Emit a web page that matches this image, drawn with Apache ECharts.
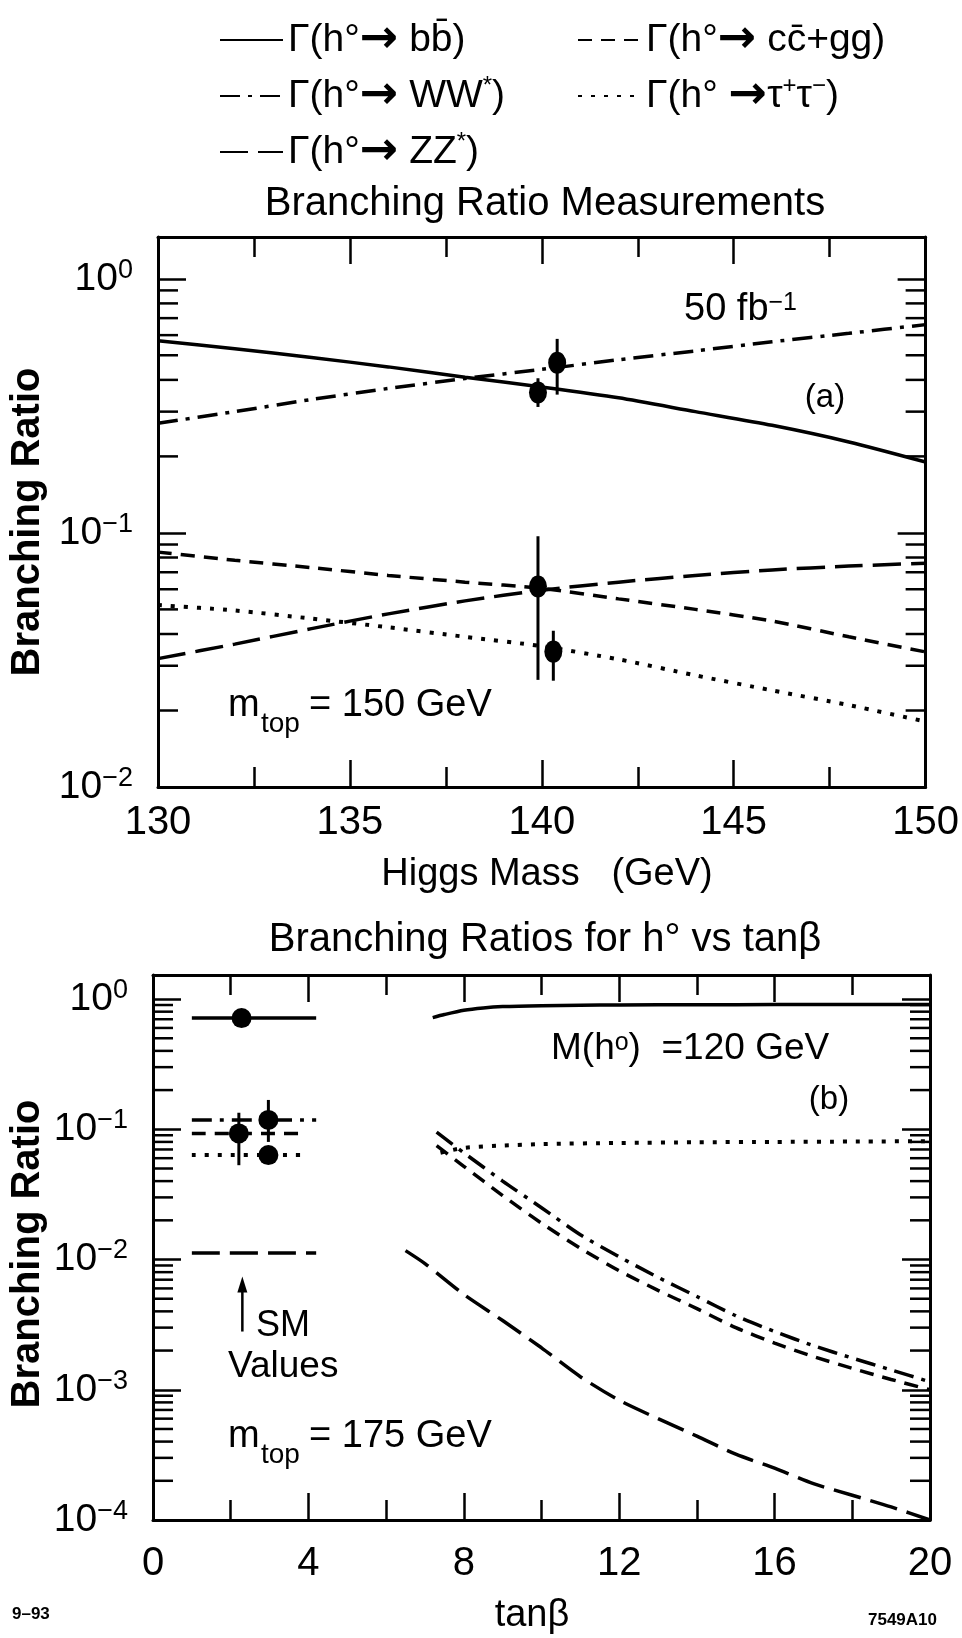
<!DOCTYPE html>
<html>
<head>
<meta charset="utf-8">
<script src="https://cdn.jsdelivr.net/npm/echarts@6/dist/echarts.min.js"></script>
<style>
  html, body { margin: 0; padding: 0; background: #fff; }
  #chart { width: 962px; height: 1638px; }
</style>
</head>
<body>
<div id="chart"></div>
<script>
// ---- panel (a): branching ratios vs Higgs mass ----
var massX  = [130, 132, 134, 136, 138, 140, 142, 144, 146, 148, 150];
var aBB    = [0.57, 0.53, 0.49, 0.45, 0.41, 0.375, 0.34, 0.30, 0.265, 0.228, 0.19];
var aCC    = [0.084, 0.078, 0.073, 0.068, 0.064, 0.0605, 0.055, 0.05, 0.045, 0.039, 0.034];
var aWW    = [0.27, 0.30, 0.335, 0.37, 0.405, 0.44, 0.48, 0.52, 0.565, 0.61, 0.66];
var aTau   = [0.052, 0.0495, 0.046, 0.0425, 0.039, 0.0358, 0.0318, 0.0275, 0.024, 0.021, 0.0181];
var aZZ    = [0.032, 0.0365, 0.042, 0.048, 0.054, 0.0595, 0.064, 0.068, 0.0715, 0.074, 0.076];
// measurements: [mass, BR, low, high]
var aMeas  = [[139.9, 0.357, 0.313, 0.406], [140.4, 0.467, 0.35, 0.58],
              [139.9, 0.0615, 0.0264, 0.097], [140.3, 0.0341, 0.0262, 0.0412]];

// ---- panel (b): branching ratios vs tan(beta) ----
var bBB  = [[7.2, 0.72], [7.5, 0.76], [8, 0.82], [8.5, 0.855], [9, 0.875], [10, 0.89], [11, 0.897], [12, 0.9], [14, 0.905], [16, 0.907], [18, 0.908], [20, 0.908]];
var bTau = [[7.4, 0.066], [8, 0.072], [9, 0.075], [10, 0.077], [12, 0.0785], [14, 0.0795], [16, 0.08], [18, 0.0805], [20, 0.081]];
var bWW  = [[7.3, 0.095], [8, 0.066], [9, 0.040], [10, 0.025], [11, 0.0155], [12, 0.0105], [13, 0.0073], [14, 0.0052], [15, 0.0037], [16, 0.0028], [17, 0.00218], [18, 0.00175], [19, 0.00142], [20, 0.00115]];
var bCC  = [[7.3, 0.075], [8, 0.052], [9, 0.031], [10, 0.019], [11, 0.0122], [12, 0.0082], [13, 0.0058], [14, 0.0042], [15, 0.003], [16, 0.00228], [17, 0.0018], [18, 0.00146], [19, 0.0012], [20, 0.001]];
var bZZ  = [[6.5, 0.0117], [7, 0.0093], [8, 0.0054], [9, 0.0034], [10, 0.0021], [11, 0.00126], [12, 0.00083], [13, 0.0006], [14, 0.00044], [15, 0.00032], [16, 0.00025], [17, 0.00019], [18, 0.000155], [19, 0.000126], [20, 0.0001]];
// SM values drawn on the left
var smSpan  = [1.0, 4.2];
var smSpan2 = [1.0, 3.96];
var smBB = 0.714, smWW = 0.118, smCC = 0.093, smTau = 0.0634, smZZ = 0.0112;
var smMeas  = [[2.28, 0.714, 0.714, 0.714], [2.21, 0.093, 0.053, 0.134],
               [2.97, 0.118, 0.08, 0.168], [2.97, 0.0634, 0.057, 0.07]];
var smArrow = [2.3, 0.0028, 0.0074];

// tick labels
var aTicksX = [130, 135, 140, 145, 150];
var bTicksX = [0, 4, 8, 12, 16, 20];

var FONT = '"Liberation Sans", Arial, Helvetica, sans-serif';

var names = {
  bb: 'Γ(h°{a|→} bb\u0304)',
  cc: 'Γ(h°{a|→} cc\u0304+gg)',
  WW: 'Γ(h°{a|→} WW{s|*})',
  tau: 'Γ(h° {a|→}τ{s|+}τ{s|\u2212})',
  ZZ: 'Γ(h°{a|→} ZZ{s|*})'
};
var styles = {
  bb:  { type: 'solid', width: 3.5 },
  cc:  { type: [14, 9], width: 3.5 },
  WW:  { type: [20, 8, 4, 8], width: 3.5 },
  tau: { type: [4, 9], width: 4 },
  ZZ:  { type: [28, 10], width: 3.5 }
};

function pair(xs, ys) { return xs.map(function (x, i) { return [x, ys[i]]; }); }

function powLabel(v) {
  var l = Math.log10(v), e = Math.round(l);
  if (Math.abs(l - e) > 1e-6) return '';
  return '{b|10}{s|' + (e < 0 ? '\u2212' + (-e) : e) + '}';
}

function minorVals(lo, hi) {
  var out = [];
  for (var e = lo; e <= hi; e++) {
    for (var k = 2; k <= 9; k++) out.push(k * Math.pow(10, e));
  }
  return out;
}

function xAxes(grid, min, max, interval, ticks, margin) {
  var base = {
    gridIndex: grid, type: 'value', min: min, max: max, interval: interval,
    axisLine: { onZero: false, lineStyle: { color: '#000', width: 3 } },
    axisTick: { inside: true, length: 27, lineStyle: { color: '#000', width: 2.5 } },
    minorTick: { show: true, splitNumber: 2, length: 20, lineStyle: { color: '#000', width: 2.5 } },
    splitLine: { show: false },
    axisLabel: {
      margin: margin, color: '#000', fontSize: 40, fontFamily: FONT,
      formatter: function (v) { return ticks.indexOf(v) >= 0 ? String(v) : ''; }
    }
  };
  var top = JSON.parse(JSON.stringify(base));
  top.position = 'top';
  top.axisLabel = { show: false };
  base.position = 'bottom';
  return [base, top];
}

function yAxes(grid, min, max) {
  var base = {
    gridIndex: grid, type: 'log', logBase: 10, min: min, max: max,
    axisLine: { onZero: false, lineStyle: { color: '#000', width: 3 } },
    axisTick: { inside: true, length: 28, lineStyle: { color: '#000', width: 2.5 } },
    splitLine: { show: false },
    axisLabel: {
      margin: 25, color: '#000', formatter: powLabel,
      rich: {
        b: { fontSize: 39, lineHeight: 44, fontFamily: FONT, color: '#000' },
        s: { fontSize: 27, lineHeight: 16, verticalAlign: 'top', fontFamily: FONT, color: '#000' }
      }
    }
  };
  var right = JSON.parse(JSON.stringify(base));
  right.position = 'right';
  right.axisLabel = { show: false };
  base.position = 'left';
  base.axisLabel.formatter = powLabel;
  return [base, right];
}

function lineSeries(key, data, xi, yi) {
  return {
    name: key, type: 'line', xAxisIndex: xi, yAxisIndex: yi, data: data,
    symbol: 'none', smooth: 0.25, silent: true,
    lineStyle: { color: '#000', width: styles[key].width, type: styles[key].type }
  };
}

function minorTicks(xi, yi, xmin, xmax, vals) {
  return {
    type: 'custom', xAxisIndex: xi, yAxisIndex: yi, silent: true,
    data: vals.map(function (v) { return [xmin, v]; }),
    encode: { x: 0, y: 1 },
    renderItem: function (params, api) {
      var p = api.coord([xmin, api.value(1)]);
      var q = api.coord([xmax, api.value(1)]);
      return { type: 'group', children: [
        { type: 'line', shape: { x1: p[0], y1: p[1], x2: p[0] + 20, y2: p[1] }, style: { stroke: '#000', lineWidth: 2.5 } },
        { type: 'line', shape: { x1: q[0] - 20, y1: q[1], x2: q[0], y2: q[1] }, style: { stroke: '#000', lineWidth: 2.5 } }
      ] };
    }
  };
}

function errorBars(xi, yi, rows) {
  return {
    type: 'custom', xAxisIndex: xi, yAxisIndex: yi, silent: true, z: 4,
    data: rows.map(function (r) { return [r[0], r[2], r[3]]; }),
    encode: { x: 0, y: [1, 2] },
    renderItem: function (params, api) {
      var lo = api.coord([api.value(0), api.value(1)]);
      var hi = api.coord([api.value(0), api.value(2)]);
      return { type: 'line', shape: { x1: lo[0], y1: lo[1], x2: hi[0], y2: hi[1] }, style: { stroke: '#000', lineWidth: 3 } };
    }
  };
}

function points(xi, yi, rows, size) {
  return {
    type: 'scatter', xAxisIndex: xi, yAxisIndex: yi, silent: true, z: 5,
    symbol: 'circle', symbolSize: size,
    itemStyle: { color: '#000', opacity: 1 },
    data: rows.map(function (r) { return [r[0], r[1]]; })
  };
}

// SM arrow: shaft from low to high, head at the high end
var arrowSeries = {
  type: 'custom', xAxisIndex: 2, yAxisIndex: 2, silent: true,
  data: [smArrow], encode: { x: 0, y: [1, 2] },
  renderItem: function (params, api) {
    var lo = api.coord([api.value(0), api.value(1)]);
    var hi = api.coord([api.value(0), api.value(2)]);
    return { type: 'group', children: [
      { type: 'line', shape: { x1: lo[0], y1: lo[1], x2: hi[0], y2: hi[1] + 8 }, style: { stroke: '#000', lineWidth: 2.5 } },
      { type: 'polygon', shape: { points: [[hi[0], hi[1]], [hi[0] - 5, hi[1] + 16], [hi[0] + 5, hi[1] + 16]] }, style: { fill: '#000' } }
    ] };
  }
};

var xa = xAxes(0, 130, 150, 5, aTicksX, 16);
var xb = xAxes(1, 0, 20, 4, bTicksX, 24);
var ya = yAxes(0, 0.01, 1.46);
var yb = yAxes(1, 0.0001, 1.53);

var series = [
  lineSeries('bb', pair(massX, aBB), 0, 0),
  lineSeries('cc', pair(massX, aCC), 0, 0),
  lineSeries('WW', pair(massX, aWW), 0, 0),
  lineSeries('tau', pair(massX, aTau), 0, 0),
  lineSeries('ZZ', pair(massX, aZZ), 0, 0),
  errorBars(0, 0, aMeas),
  points(0, 0, aMeas, [18, 22]),
  minorTicks(0, 0, 130, 150, minorVals(-2, -1)),

  lineSeries('bb', bBB, 2, 2),
  lineSeries('cc', bCC, 2, 2),
  lineSeries('WW', bWW, 2, 2),
  lineSeries('tau', bTau, 2, 2),
  lineSeries('ZZ', bZZ, 2, 2),
  lineSeries('bb', [[smSpan[0], smBB], [smSpan[1], smBB]], 2, 2),
  lineSeries('WW', [[smSpan[0], smWW], [smSpan[1], smWW]], 2, 2),
  lineSeries('cc', [[smSpan2[0], smCC], [smSpan2[1], smCC]], 2, 2),
  lineSeries('tau', [[smSpan2[0], smTau], [smSpan2[1], smTau]], 2, 2),
  lineSeries('ZZ', [[smSpan[0], smZZ], [smSpan[1], smZZ]], 2, 2),
  errorBars(2, 2, smMeas),
  points(2, 2, smMeas, 20),
  minorTicks(2, 2, 0, 20, minorVals(-4, -1)),
  arrowSeries
];

function txt(x, y, text, size, extra) {
  var s = { text: text, fill: '#000', fontSize: size, fontFamily: FONT, align: 'left', verticalAlign: 'middle' };
  for (var k in (extra || {})) s[k] = extra[k];
  return { type: 'text', x: x, y: y, style: s, silent: true };
}
var supRich = { s: { fontSize: 25, lineHeight: 16, verticalAlign: 'top', fontFamily: FONT, fill: '#000' } };

var chart = echarts.init(document.getElementById('chart'));
chart.setOption({
  backgroundColor: '#fff',
  animation: false,
  grid: [
    { left: 158, top: 237, width: 775, height: 550 },
    { left: 153, top: 975, width: 777, height: 545 }
  ],
  xAxis: [xa[0], xa[1], xb[0], xb[1]].map(function (a, i) { a.gridIndex = i < 2 ? 0 : 1; return a; }),
  yAxis: [ya[0], ya[1], yb[0], yb[1]].map(function (a, i) { a.gridIndex = i < 2 ? 0 : 1; return a; }),
  legend: [
    { data: ['bb', 'WW', 'ZZ'], left: 214, top: 12, orient: 'vertical' },
    { data: ['cc', 'tau'], left: 572, top: 12, orient: 'vertical' }
  ].map(function (l) {
    l.itemWidth = 63; l.itemHeight = 30; l.itemGap = 10;
    l.selectedMode = false;
    l.itemStyle = { color: 'rgba(0,0,0,0)', borderWidth: 0, opacity: 0 };
    l.formatter = function (n) { return names[n]; };
    l.textStyle = { color: '#000', fontSize: 39, lineHeight: 44, fontFamily: FONT,
      rich: {
        s: { fontSize: 24, lineHeight: 16, verticalAlign: 'top', fontFamily: FONT, color: '#000' },
        a: { fontSize: 46, lineHeight: 44, fontWeight: 'bold', fontFamily: '"DejaVu Sans"', color: '#000' }
      } };
    return l;
  }),
  graphic: [
    txt(545, 204, 'Branching Ratio Measurements', 40, { align: 'center' }),
    txt(545, 940, 'Branching Ratios for h° vs tanβ', 40, { align: 'center' }),
    txt(547, 875, 'Higgs Mass   (GeV)', 38, { align: 'center' }),
    txt(532, 1616, 'tanβ', 38, { align: 'center' }),
    txt(684, 310, '50 fb{s|\u22121}', 38, { rich: supRich }),
    txt(825, 398, '(a)', 33, { align: 'center' }),
    txt(228, 706, 'm', 38),
    txt(261, 724, 'top', 28),
    txt(309, 706, '= 150 GeV', 38),
    txt(551, 1049, 'M(h{s|o})  =120 GeV', 37, { rich: supRich }),
    txt(829, 1100, '(b)', 33, { align: 'center' }),
    txt(256, 1326, 'SM', 36),
    txt(228, 1367, 'Values', 37),
    txt(228, 1437, 'm', 38),
    txt(261, 1455, 'top', 28),
    txt(309, 1437, '= 175 GeV', 38),
    txt(12, 1614, '9–93', 17, { fontWeight: 'bold' }),
    txt(937, 1620, '7549A10', 17, { fontWeight: 'bold', align: 'right' }),
    { type: 'text', x: 28, y: 522, rotation: Math.PI / 2, silent: true,
      style: { text: 'Branching Ratio', fill: '#000', fontSize: 40, fontWeight: 'bold', fontFamily: FONT, align: 'center', verticalAlign: 'middle' } },
    { type: 'text', x: 28, y: 1254, rotation: Math.PI / 2, silent: true,
      style: { text: 'Branching Ratio', fill: '#000', fontSize: 40, fontWeight: 'bold', fontFamily: FONT, align: 'center', verticalAlign: 'middle' } }
  ],
  series: series
});
</script>
</body>
</html>
